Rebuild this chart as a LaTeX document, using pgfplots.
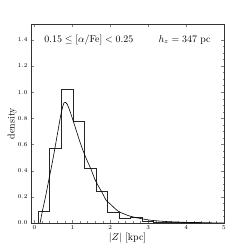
\documentclass[border=0pt]{standalone}
\usepackage{pgfplots}
\pgfplotsset{compat=1.18}
\begin{document}
\begin{tikzpicture}
\useasboundingbox (-31bp,-26bp) rectangle (218bp,223bp);
\begin{axis}[
  scale only axis, width=193bp, height=199bp,
  anchor=south west, at={(0,0)},
  xmin=-0.09, xmax=5, ymin=0, ymax=1.52,
  xtick={0,1,2,3,4,5}, ytick={0,0.2,0.4,0.6,0.8,1.0,1.2,1.4},
  yticklabel style={/pgf/number format/.cd,fixed,fixed zerofill,precision=1},
  minor x tick num=4, minor y tick num=3,
  tick align=inside, ticks=both,
  major tick length=3bp, minor tick length=1.5bp,
  tick label style={font=\fontsize{6}{7}\selectfont},
  xticklabel style={yshift=1bp},
  axis line style={line width=0.9pt, black!80},
  xlabel={$|Z|$ [kpc]}, ylabel={density},
  xlabel style={at={(axis description cs:0.5,-0.075)}, anchor=center, font=\fontsize{10}{12}\selectfont},
  ylabel style={at={(axis description cs:-0.098,0.5)}, anchor=center, rotate=0, font=\fontsize{10}{12}\selectfont},
]
\addplot[const plot mark left, black!85, line width=0.8pt] coordinates {
(0.1,0) (0.1,0.09) (0.405,0.57) (0.71,1.02) (1.015,0.775) (1.32,0.415) (1.625,0.24) (1.93,0.08) (2.235,0.035) (2.54,0.043) (2.845,0.013) (3.15,0.008) (3.455,0.004) (3.76,0.002) (4.065,0.001) (4.37,0)
};
\addplot[smooth, black, line width=0.6pt] coordinates {
(0.15,0) (0.21,0.09) (0.3,0.21) (0.38,0.33) (0.45,0.43) (0.54,0.57) (0.625,0.71) (0.7,0.83) (0.78,0.918) (0.86,0.91) (0.93,0.86) (1.0,0.80) (1.1,0.71) (1.2,0.62) (1.3,0.54) (1.4,0.47) (1.5,0.405) (1.6,0.33) (1.7,0.275) (1.8,0.225) (1.9,0.17) (2.0,0.145) (2.2,0.092) (2.4,0.065) (2.55,0.05) (2.8,0.034) (3.1,0.02) (3.5,0.011) (4.0,0.005) (4.5,0.002) (5.0,0.001)
};
\node[anchor=west, font=\fontsize{10}{12}\selectfont] at (axis cs:0.17,1.4) {$0.15\leq[\alpha/\mathrm{Fe}]<0.25$};
\node[anchor=east, font=\fontsize{10}{12}\selectfont] at (axis cs:4.74,1.4) {$h_z=347$ pc};
\end{axis}
\end{tikzpicture}
\end{document}
